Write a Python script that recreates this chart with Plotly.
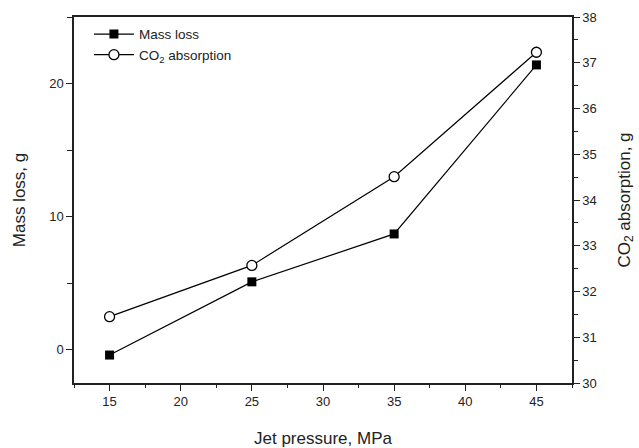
import plotly.graph_objects as go

pressure = [15, 25, 35, 45]
mass_loss = [-0.4, 5.1, 8.7, 21.4]
co2_absorption = [31.45, 32.57, 34.51, 37.23]

FONT = "Liberation Sans, Arial, sans-serif"

fig = go.Figure()
fig.add_trace(go.Scatter(
    x=pressure, y=mass_loss, name="Mass loss", mode="lines+markers",
    line=dict(color="black", width=1.2),
    marker=dict(symbol="square", size=9, color="black"),
))
fig.add_trace(go.Scatter(
    x=pressure, y=co2_absorption, name="CO<sub>2</sub> absorption", mode="lines+markers",
    yaxis="y2",
    line=dict(color="black", width=1.2),
    marker=dict(symbol="circle", size=10, color="white", line=dict(color="black", width=1.3)),
))

axis_common = dict(
    showgrid=False, zeroline=False, showline=True, linecolor="#222", linewidth=1.5,
    ticks="outside", ticklen=6, tickcolor="#222", tickwidth=1.2, automargin=False,
    tickfont=dict(family=FONT, size=13, color="#222"),
)

fig.update_layout(
    width=639, height=448,
    margin=dict(l=74, r=67, t=17, b=65),
    plot_bgcolor="white", paper_bgcolor="white",
    font=dict(family=FONT, color="#222"),
    showlegend=True,
    legend=dict(x=0.03, y=0.995, xanchor="left", yanchor="top",
                bgcolor="rgba(0,0,0,0)", font=dict(family=FONT, size=13.5, color="#222"),
                tracegroupgap=0, itemwidth=40),
    xaxis=dict(
        range=[12.5, 47.5], dtick=5, tick0=15, mirror=True,
        title=dict(text="Jet pressure, MPa", font=dict(family=FONT, size=17, color="#222"), standoff=26),
        minor=dict(ticks="outside", ticklen=3, dtick=2.5, tick0=15, tickcolor="#222"),
        **axis_common,
    ),
    yaxis=dict(
        range=[-2.5, 25], dtick=10, tick0=0,
        title=dict(text="Mass loss, g", font=dict(family=FONT, size=17, color="#222"), standoff=19),
        minor=dict(ticks="outside", ticklen=5, dtick=5, tick0=0, tickcolor="#222"),
        **axis_common,
    ),
    yaxis2=dict(
        range=[30, 38], dtick=1, tick0=30, overlaying="y", side="right",
        title=dict(text="CO<sub>2</sub> absorption, g", font=dict(family=FONT, size=17, color="#222"), standoff=22),
        minor=dict(ticks="outside", ticklen=4, dtick=0.5, tick0=30, tickcolor="#222"),
        **axis_common,
    ),
)

fig.write_html("out.html")
